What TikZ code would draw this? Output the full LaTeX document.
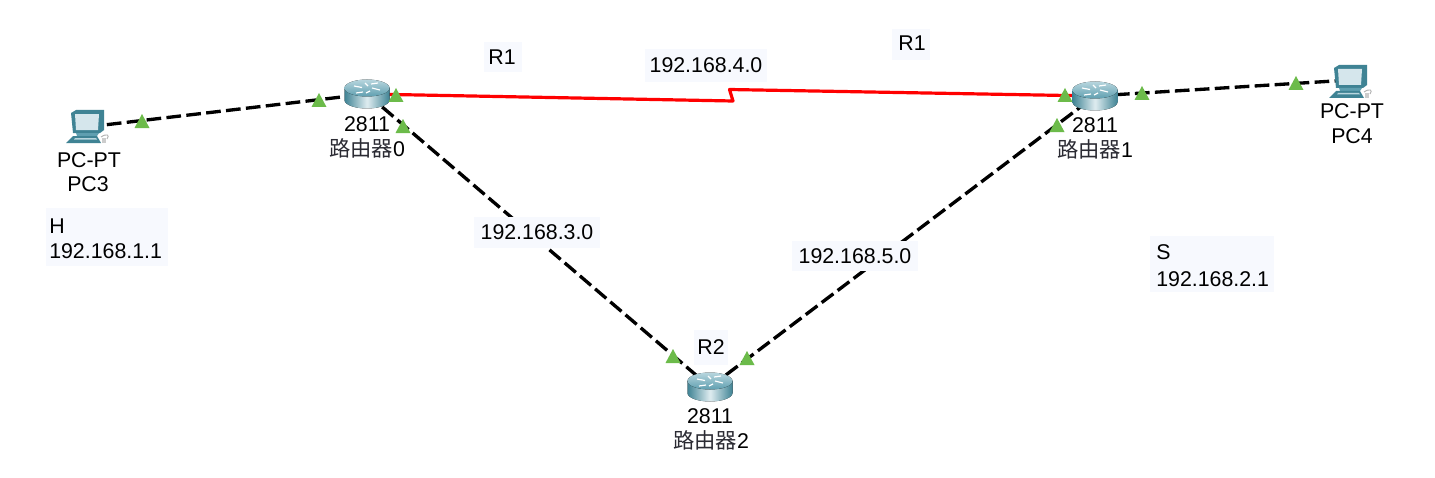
\documentclass[tikz,border=0pt]{standalone}
\usepackage{fontspec}
\setmainfont{Liberation Sans}
\newfontfamily\cjkfont{Noto Sans CJK SC}
\definecolor{labelbg}{HTML}{F7F9FE}
\definecolor{tri}{HTML}{6CBB4A}
\definecolor{tealA}{HTML}{B8D6DE}
\definecolor{tealB}{HTML}{3F8394}
\definecolor{tealC}{HTML}{5F9FB0}
\definecolor{screenc}{HTML}{D5E6EC}
\definecolor{cjkc}{HTML}{2B2B33}
\tikzset{
  x=0.75pt,y=-0.75pt,
  anchorpt/.style={inner sep=0pt,minimum size=0pt},
  wire/.style={line width=2.5pt,black,dash pattern=on 11pt off 4pt},
  serial/.style={line width=2.4pt,red,line join=round},
  lbl/.style={font=\fontsize{16}{19}\selectfont,inner sep=0pt,text=black,align=left},
  bg/.style={fill=labelbg,draw=none},
  port/.style={fill=tri,draw=none},
  pics/router/.style={code={
    \fill[left color=tealB,right color=tealB,middle color=tealA!45!white] (-22.5,-6) -- (-22.5,6) arc[start angle=180,end angle=0,x radius=22.5,y radius=8.5] -- (22.5,-6) -- cycle;
    \fill[top color=tealA,bottom color=tealC] (0,-6) ellipse[x radius=22.5,y radius=8.5];
    \draw[white,line width=0.9pt] (-13,-8) -- (-5,-6.5) (4,-10) -- (11,-11) (-4,-2) -- (-11,-1) (5,-6) -- (13,-4) (-2,-11) -- (1,-8) (3,-3) -- (-1,-1);
  }},
  pics/pcicon/.style={code={
    \fill[tealB] (-16,-12) -- (-11,-15) -- (17,-15) -- (17,5) -- (13,8) -- (-14,8) -- cycle;
    \fill[screenc] (-12,-11) -- (12,-11) -- (11,5) -- (-11,5) -- cycle;
    \fill[tealC] (-11,8) -- (12,8) -- (10,11) -- (-10,11) -- cycle;
    \fill[tealB] (-14,11) -- (10,11) -- (14,18) -- (-21,18) -- cycle;
    \fill[tealA] (-12,13) -- (9,13) -- (10,14.5) -- (-13,14.5) -- cycle;
    \draw[gray!60,line width=0.7pt] (14,12) .. controls (20,8) and (23,10) .. (20,14);
    \fill[gray!40] (15,13) rectangle (19,18);
  }}
}
\newcommand{\porttri}[2]{\fill[port] (#1-7.5,#2+7) -- (#1,#2-7) -- (#1+7.5,#2+7) -- cycle;}
\begin{document}
\begin{tikzpicture}
\useasboundingbox (0,0) rectangle (1435,478);
\fill[white] (0,0) rectangle (1435,478);
% label backgrounds
\fill[bg] (484,42) rectangle (522,72);
\fill[bg] (892,29) rectangle (930,60);
\fill[bg] (645,49) rectangle (767,82);
\fill[bg] (46,208) rectangle (168,266);
\fill[bg] (1150,236) rectangle (1274,292);
\fill[bg] (694,330) rectangle (728,365);
% device anchors
\node[anchorpt] (pc3) at (87,127) {};
\node[anchorpt] (pc4) at (1350,80) {};
\node[anchorpt] (r0) at (367,94) {};
\node[anchorpt] (r1) at (1095,96) {};
\node[anchorpt] (r2) at (710,387) {};
\coordinate (zigA) at (733,101);
\coordinate (zigB) at (729.5,89.5);
% connectors
\draw[wire] (pc3.center) -- (r0.center);
\draw[wire] (r1.center) -- (pc4.center);
\draw[wire] (r0.center) -- (r2.center);
\draw[wire] (r2.center) -- (r1.center);
\draw[serial] (r0.center) -- (zigA) -- (zigB) -- (r1.center);
% labels over connectors
\fill[bg] (474,217) rectangle (600,248);
\fill[bg] (792,241) rectangle (918,271);
% icons
\pic at ([yshift=1.5pt]pc3.center) {pcicon};
\pic at (pc4) {pcicon};
\pic at (r0) {router};
\pic at (r1) {router};
\pic at (r2) {router};
% link lights
\porttri{142}{121}\porttri{319}{100}\porttri{396}{95}\porttri{403}{126}
\porttri{673}{356}\porttri{747}{358}\porttri{1065}{95}\porttri{1057}{125}
\porttri{1142}{93}\porttri{1296}{83}
% text
\node[lbl] (t1) at (502,57) {R1};
\node[lbl] (t2) at (912,43) {R1};
\node[lbl] (t3) at (706,65) {192.168.4.0};
\node[lbl] (t4) at (537,232) {192.168.3.0};
\node[lbl] (t5) at (855,256) {192.168.5.0};
\node[lbl] (t6) at (711,347) {R2};
\node[lbl,anchor=west] (t7) at (49,226) {H};
\node[lbl,anchor=west] (t8) at (49,251) {192.168.1.1};
\node[lbl,anchor=west] (t9) at (1156,252) {S};
\node[lbl,anchor=west] (t10) at (1156,279) {192.168.2.1};
\node[lbl] (t11) at (89,160) {PC-PT};
\node[lbl] (t12) at (88,184) {PC3};
\node[lbl] (t13) at (1352,111) {PC-PT};
\node[lbl] (t14) at (1352,136) {PC4};
\node[lbl] (t15) at (367,124) {2811};
\node[lbl] (t16) at (367,148) {{\cjkfont\color{cjkc}路由器}0};
\node[lbl] (t17) at (1095,125) {2811};
\node[lbl] (t18) at (1095,149) {{\cjkfont\color{cjkc}路由器}1};
\node[lbl] (t19) at (710,416) {2811};
\node[lbl] (t20) at (711,440) {{\cjkfont\color{cjkc}路由器}2};
\end{tikzpicture}
\end{document}
